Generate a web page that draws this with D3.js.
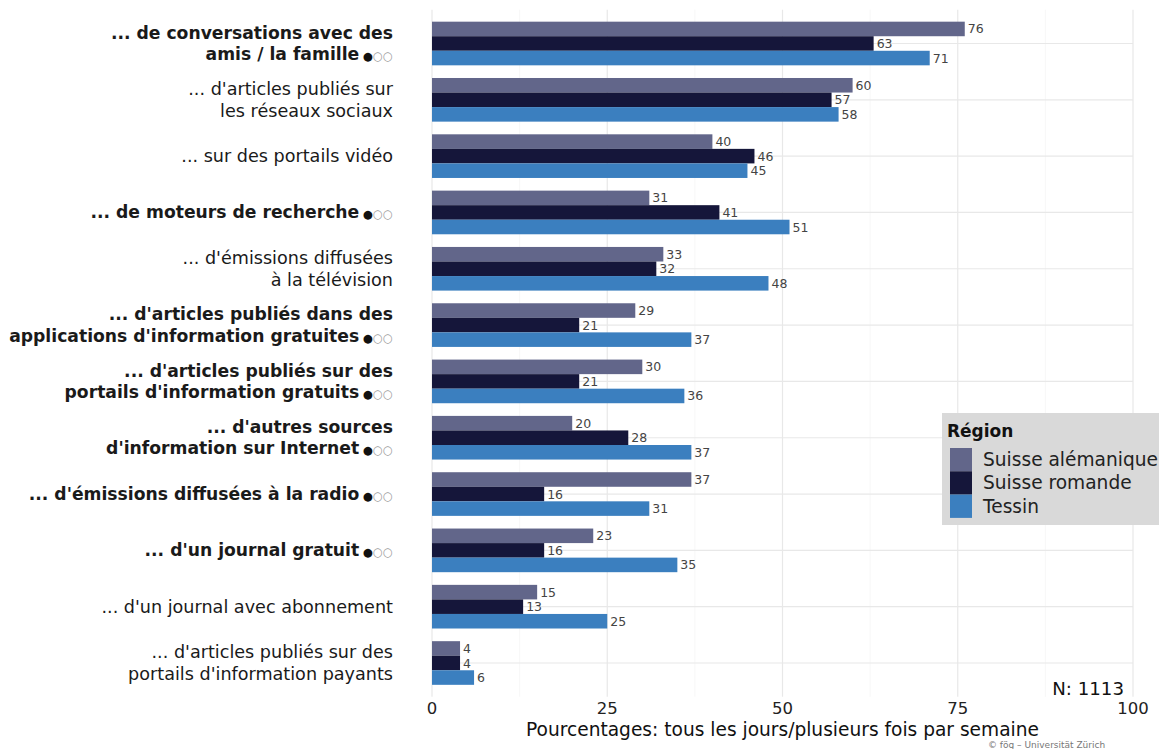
<!DOCTYPE html>
<html><head><meta charset="utf-8">
<script src="https://cdn.jsdelivr.net/npm/d3@7"></script>
<style>
body{margin:0;background:#fff;overflow:hidden;}
text{font-family:"DejaVu Sans",sans-serif;}
</style>
</head><body>
<svg id="c" width="1159" height="749"></svg>
<script>
const categories = [
  "... de conversations avec des\namis / la famille",
  "... d'articles publiés sur\nles réseaux sociaux",
  "... sur des portails vidéo",
  "... de moteurs de recherche",
  "... d'émissions diffusées\nà la télévision",
  "... d'articles publiés dans des\napplications d'information gratuites",
  "... d'articles publiés sur des\nportails d'information gratuits",
  "... d'autres sources\nd'information sur Internet",
  "... d'émissions diffusées à la radio",
  "... d'un journal gratuit",
  "... d'un journal avec abonnement",
  "... d'articles publiés sur des\nportails d'information payants"
];
const significant = [true,false,false,true,false,true,true,true,true,true,false,false];
const seriesNames = ["Suisse alémanique","Suisse romande","Tessin"];
const alemanique = [76,60,40,31,33,29,30,20,37,23,15,4];
const romande    = [63,57,46,41,32,21,21,28,16,16,13,4];
const tessin     = [71,58,45,51,48,37,36,37,31,35,25,6];
const xTicks = [0,25,50,75,100];
const xMinor = [12.5,37.5,62.5,87.5];
const colors = ["#62668a","#15163a","#3b7fbf"];
const axisTitle = "Pourcentages: tous les jours/plusieurs fois par semaine";
const legendTitle = "Région";
const nLabel = "N: 1113";
const caption = "© fög – Universität Zürich";

const series = [alemanique, romande, tessin];
const svg = d3.select("#c");

const x = d3.scaleLinear().domain([0,100]).range([432,1133]);
const y = d3.scalePoint().domain(categories).range([43.5,663]);
const step = y.step();
const groupH = step*0.775;
const inner = d3.scaleBand().domain(seriesNames).range([-groupH/2, groupH/2]);
const panelTop = y(categories[0]) - 0.6*step, panelBot = y(categories[categories.length-1]) + 0.6*step;

// grid
const g = svg.append("g");
g.selectAll(".minor").data(xMinor).join("line")
  .attr("x1",d=>x(d)).attr("x2",d=>x(d)).attr("y1",panelTop).attr("y2",panelBot)
  .attr("stroke","#f3f3f3").attr("stroke-width",0.7);
g.selectAll(".major").data(xTicks).join("line")
  .attr("x1",d=>x(d)).attr("x2",d=>x(d)).attr("y1",panelTop).attr("y2",panelBot)
  .attr("stroke","#e8e8e8").attr("stroke-width",1.2);
g.selectAll(".hgrid").data(categories).join("line")
  .attr("x1",x(0)).attr("x2",x(100)).attr("y1",d=>y(d)).attr("y2",d=>y(d))
  .attr("stroke","#e8e8e8").attr("stroke-width",1.2);

// bars
const rows = [];
categories.forEach((c,i)=>series.forEach((s,j)=>rows.push({c, s:seriesNames[j], v:s[i], j})));
svg.append("g").selectAll("rect").data(rows).join("rect")
  .attr("x",x(0)).attr("y",d=>y(d.c)+inner(d.s))
  .attr("width",d=>x(d.v)-x(0)).attr("height",inner.bandwidth())
  .attr("fill",d=>colors[d.j]);
svg.append("g").selectAll("text").data(rows).join("text")
  .attr("x",d=>x(d.v)+3).attr("y",d=>y(d.c)+inner(d.s)+inner.bandwidth()/2+4.5)
  .attr("font-size",12.5).attr("fill","#444").text(d=>d.v);

// category labels
const lab = svg.append("g");
categories.forEach((c,i)=>{
  const lines = c.split("\n");
  const cy = y(c);
  const lh = 21.5;
  const first = cy + 6 - (lines.length-1)*lh/2;
  lines.forEach((ln,k)=>{
    const t = lab.append("text").attr("x",393).attr("y",first+k*lh)
      .attr("text-anchor","end").attr("font-size",significant[i]?17.2:17.6)
      .attr("font-weight",significant[i]?"bold":"normal").attr("fill","#1a1a1a");
    t.append("tspan").text(ln);
    if(k===lines.length-1 && significant[i]){
      t.append("tspan").attr("font-size",11.5).attr("font-weight","normal").attr("fill","#111").text(" ●");
      t.append("tspan").attr("font-size",11.5).attr("font-weight","normal").attr("fill","#999").text("○○");
    }
  });
});

// x axis
svg.append("g").selectAll("text").data(xTicks).join("text")
  .attr("x",d=>x(d)).attr("y",714).attr("text-anchor","middle")
  .attr("font-size",16.5).attr("fill","#222").text(d=>d);
svg.append("text").attr("x",(x(0)+x(100))/2).attr("y",736).attr("text-anchor","middle")
  .attr("font-size",18.6).attr("fill","#111").text(axisTitle);
svg.append("text").attr("x",1124).attr("y",695).attr("text-anchor","end")
  .attr("font-size",18.2).attr("fill","#111").text(nLabel);
svg.append("text").attr("x",988).attr("y",748)
  .attr("font-size",9).attr("fill","#777").text(caption);

// legend
const lg = svg.append("g");
lg.append("rect").attr("x",942).attr("y",413).attr("width",240).attr("height",112).attr("fill","#d9d9d9");
lg.append("text").attr("x",947).attr("y",437).attr("font-size",17).attr("font-weight","bold").attr("fill","#111").text(legendTitle);
seriesNames.forEach((s,j)=>{
  lg.append("rect").attr("x",950).attr("y",448+j*23.3).attr("width",22).attr("height",23.3).attr("fill",colors[j]);
  lg.append("text").attr("x",983).attr("y",466+j*23.3).attr("font-size",18.6).attr("fill","#222").text(s);
});
</script>
</body></html>
